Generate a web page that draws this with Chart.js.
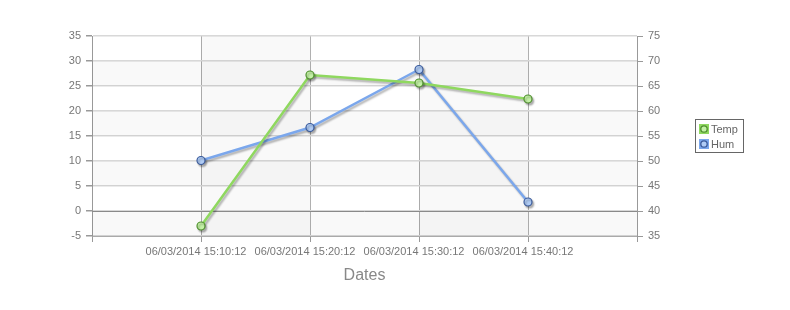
<!DOCTYPE html>
<html>
<head>
<meta charset="utf-8">
<script src="https://cdn.jsdelivr.net/npm/chart.js@4/dist/chart.umd.min.js"></script>
<style>
  html, body { margin: 0; padding: 0; background: #fff; }
  #wrap { width: 790px; height: 310px; }
</style>
</head>
<body>
<div id="wrap"><canvas id="chart" width="790" height="310"></canvas></div>
<script>
// 데이터
const dates = ['06/03/2014 15:10:12', '06/03/2014 15:20:12', '06/03/2014 15:30:12', '06/03/2014 15:40:12'];
const tempValues = [-3, 27.2, 25.6, 22.4];
const humValues = [50.1, 56.7, 68.3, 41.8];
const tempTicks = [-5, 0, 5, 10, 15, 20, 25, 30, 35];
const humTicks = [35, 40, 45, 50, 55, 60, 65, 70, 75];

const font = { family: '"Liberation Sans", Arial, sans-serif', size: 11 };
const gray = '#777';

// 줄무늬 배경
const bandsPlugin = {
    id: 'bands',
    beforeDatasetsDraw(chart) {
        const { ctx, chartArea: a, scales } = chart;
        ctx.save();
        ctx.fillStyle = 'rgba(0,0,0,0.022)';
        const y = scales.y;
        for (let i = 0; i < tempTicks.length - 1; i++) {
            if (i % 2 === 0) {
                const y1 = y.getPixelForValue(tempTicks[i]);
                const y2 = y.getPixelForValue(tempTicks[i + 1]);
                ctx.fillRect(a.left, y2, a.right - a.left, y1 - y2);
            }
        }
        const x = scales.x;
        for (let i = 1; i < 5; i += 2) {
            const x1 = x.getPixelForValue(i);
            const x2 = x.getPixelForValue(i + 1);
            ctx.fillRect(x1, a.top, x2 - x1, a.bottom - a.top);
        }
        // 0 기준선
        const y0 = Math.round(y.getPixelForValue(0)) + 0.5;
        ctx.strokeStyle = '#8a8a8a';
        ctx.lineWidth = 1;
        ctx.beginPath();
        ctx.moveTo(a.left, y0);
        ctx.lineTo(a.right, y0);
        ctx.stroke();
        ctx.restore();
    }
};

// 그림자
const shadowPlugin = {
    id: 'shadow',
    beforeDatasetDraw(chart) {
        const ctx = chart.ctx;
        ctx.save();
        ctx.shadowColor = 'rgba(0,0,0,0.3)';
        ctx.shadowOffsetX = 1.5;
        ctx.shadowOffsetY = 2;
        ctx.shadowBlur = 2;
    },
    afterDatasetDraw(chart) {
        chart.ctx.restore();
    }
};

// 범례
const legendPlugin = {
    id: 'boxLegend',
    afterDraw(chart) {
        const ctx = chart.ctx;
        const left = 695, top = 119, w = 48, h = 33;
        ctx.save();
        ctx.fillStyle = '#fff';
        ctx.fillRect(left, top, w, h);
        ctx.strokeStyle = '#666';
        ctx.lineWidth = 1;
        ctx.strokeRect(left + 0.5, top + 0.5, w, h);
        chart.data.datasets.forEach((ds, i) => {
            const cy = top + 10 + i * 15;
            ctx.fillStyle = ds.borderColor;
            ctx.fillRect(left + 4, cy - 5, 10, 10);
            ctx.beginPath();
            ctx.arc(left + 9, cy, 3.2, 0, Math.PI * 2);
            ctx.fillStyle = ds.pointBackgroundColor;
            ctx.fill();
            ctx.lineWidth = 1.3;
            ctx.strokeStyle = ds.pointBorderColor;
            ctx.stroke();
            ctx.fillStyle = '#666';
            ctx.font = '11px "Liberation Sans", Arial, sans-serif';
            ctx.textBaseline = 'middle';
            ctx.fillText(ds.label, left + 16, cy + 0.5);
        });
        ctx.restore();
    }
};

const ctx = document.getElementById('chart').getContext('2d');
new Chart(ctx, {
    type: 'line',
    data: {
        datasets: [{
            label: 'Temp',
            data: tempValues.map((v, i) => ({ x: i + 1, y: v })),
            yAxisID: 'y',
            borderColor: '#8fd85f',
            borderWidth: 2.5,
            pointRadius: 4,
            pointBorderWidth: 1.2,
            pointBackgroundColor: '#c4f2a6',
            pointBorderColor: '#4f8f2f',
            tension: 0
        }, {
            label: 'Hum',
            data: humValues.map((v, i) => ({ x: i + 1, y: v })),
            yAxisID: 'y1',
            borderColor: '#7ba7ec',
            borderWidth: 2.5,
            pointRadius: 4,
            pointBorderWidth: 1.2,
            pointBackgroundColor: '#b0ccf5',
            pointBorderColor: '#3b5b9b',
            tension: 0
        }]
    },
    options: {
        responsive: false,
        animation: false,
        layout: { padding: { top: 36, left: 0, right: 0, bottom: 0 } },
        plugins: { legend: { display: false }, tooltip: { enabled: false } },
        scales: {
            x: {
                type: 'linear',
                min: 0,
                max: 5,
                afterFit(scale) { scale.height = 74; },
                afterBuildTicks(scale) {
                    scale.ticks = [0, 1, 2, 3, 4, 5].map(v => ({ value: v }));
                },
                ticks: {
                    autoSkip: false,
                    maxRotation: 0,
                    padding: 3,
                    labelOffset: -5,
                    color: gray,
                    font: font,
                    callback: v => dates[v - 1] || ''
                },
                grid: {
                    color: ctx => (ctx.tick && (ctx.tick.value === 0 || ctx.tick.value === 5)) ? 'rgba(0,0,0,0)' : '#b0b0b0',
                    tickColor: '#999',
                    tickLength: 6
                },
                border: { color: '#aaa' },
                title: {
                    display: true,
                    text: 'Dates',
                    color: '#888',
                    font: { family: font.family, size: 16 },
                    padding: { top: 0, bottom: 25 }
                }
            },
            y: {
                position: 'left',
                min: -5,
                max: 35,
                afterFit(scale) { scale.width = 92; },
                afterBuildTicks(scale) { scale.ticks = tempTicks.map(v => ({ value: v })); },
                ticks: { color: gray, font: font, padding: 5 },
                grid: { color: '#d8d8d8', lineWidth: 1.5, tickColor: '#999', tickLength: 6 },
                border: { color: '#999' }
            },
            y1: {
                position: 'right',
                min: 35,
                max: 75,
                afterFit(scale) { scale.width = 153; },
                afterBuildTicks(scale) { scale.ticks = humTicks.map(v => ({ value: v })); },
                ticks: { color: gray, font: font, padding: 5 },
                grid: { drawOnChartArea: false, tickColor: '#999', tickLength: 6 },
                border: { color: '#999' }
            }
        }
    },
    plugins: [bandsPlugin, shadowPlugin, legendPlugin]
});
</script>
</body>
</html>
